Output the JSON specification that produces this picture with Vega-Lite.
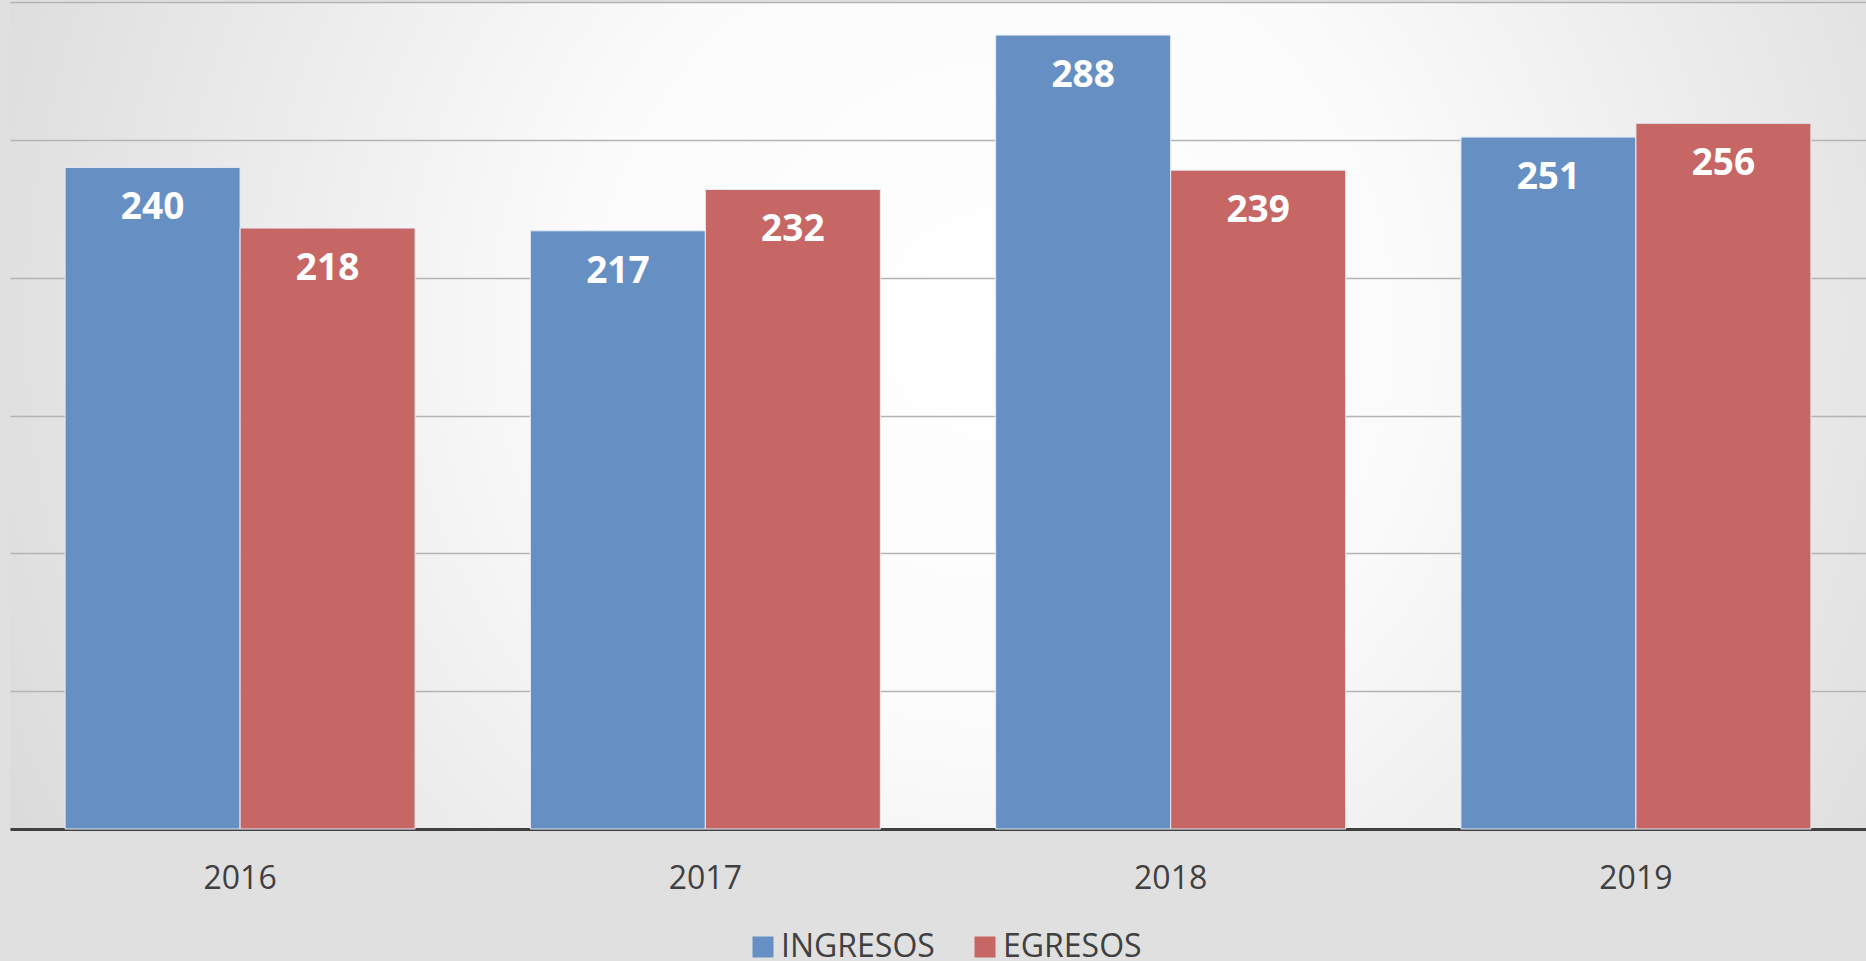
{
  "$schema": "https://vega.github.io/schema/vega-lite/v6.json",
  "width": 1856,
  "height": 827,
  "autosize": {"type": "none"},
  "padding": {"left": 10, "top": 2, "right": 0, "bottom": 132},
  "background": "#e0e0e0",
  "data": {
    "values": [
      {"year": "2016", "series": "INGRESOS", "value": 240},
      {"year": "2016", "series": "EGRESOS", "value": 218},
      {"year": "2017", "series": "INGRESOS", "value": 217},
      {"year": "2017", "series": "EGRESOS", "value": 232},
      {"year": "2018", "series": "INGRESOS", "value": 288},
      {"year": "2018", "series": "EGRESOS", "value": 239},
      {"year": "2019", "series": "INGRESOS", "value": 251},
      {"year": "2019", "series": "EGRESOS", "value": 256}
    ]
  },
  "encoding": {
    "x": {
      "field": "year", "type": "nominal", "title": null,
      "scale": {"paddingInner": 0.2478, "paddingOuter": 0.1184},
      "axis": {"labelAngle": 0, "labelFontSize": 32, "labelColor": "#404040", "labelPadding": 34, "ticks": false, "tickSize": 0, "domainColor": "#404040", "domainWidth": 3, "grid": false}
    },
    "xOffset": {"field": "series", "type": "nominal", "sort": ["INGRESOS", "EGRESOS"], "scale": {"paddingInner": 0, "paddingOuter": 0}},
    "y": {
      "field": "value", "type": "quantitative", "title": null,
      "scale": {"domain": [0, 300], "nice": false},
      "axis": {"values": [0, 50, 100, 150, 200, 250, 300], "labels": false, "labelOverlap": false, "ticks": false, "domain": false, "grid": true, "gridColor": "#b4b4b4", "gridWidth": 1.3}
    }
  },
  "layer": [
    {
      "mark": {"type": "bar", "stroke": "#e6ecf4", "strokeWidth": 1},
      "encoding": {
        "color": {
          "field": "series", "type": "nominal", "title": null,
          "scale": {"domain": ["INGRESOS", "EGRESOS"], "range": ["#6690C4", "#C66765"]},
          "legend": {"orient": "none", "legendX": 737, "legendY": 929, "direction": "horizontal", "symbolType": "square", "symbolSize": 441, "symbolStrokeWidth": 0, "labelFontSize": 32, "labelColor": "#404040", "labelOffset": 2, "columnPadding": 34, "padding": 0}
        }
      }
    },
    {
      "mark": {"type": "text", "color": "white", "fontSize": 37, "fontWeight": "bold", "baseline": "middle", "dy": 41},
      "encoding": {"text": {"field": "value", "type": "quantitative"}}
    }
  ],
  "config": {
    "font": "Open Sans",
    "view": {
      "stroke": null,
      "fill": {
        "gradient": "radial",
        "x1": 0.53, "y1": 0.45, "r1": 0,
        "x2": 0.53, "y2": 0.45, "r2": 0.75,
        "stops": [
          {"offset": 0, "color": "#ffffff"},
          {"offset": 0.3, "color": "#fbfbfb"},
          {"offset": 1, "color": "#cdcdcd"}
        ]
      }
    },
    "axis": {"labelFont": "Open Sans"},
    "legend": {"labelFont": "Open Sans"}
  }
}
